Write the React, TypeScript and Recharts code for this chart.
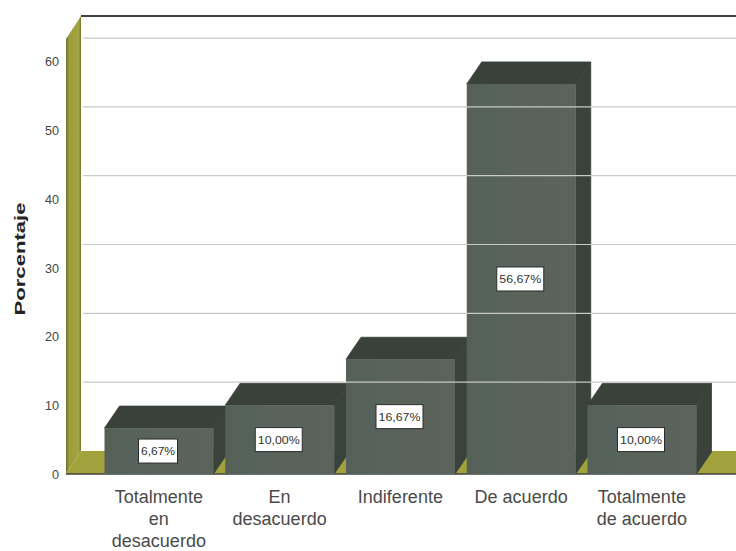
import { Bar, BarChart, LabelList, ReferenceArea, ReferenceLine, XAxis, YAxis } from "recharts";

const categories = ["Totalmente en desacuerdo", "En desacuerdo", "Indiferente", "De acuerdo", "Totalmente de acuerdo"];
const percentages = [6.67, 10, 16.67, 56.67, 10];
const percentLabels = ["6,67%", "10,00%", "16,67%", "56,67%", "10,00%"];
const yTicks = [0, 10, 20, 30, 40, 50, 60];
const tickLines: Record<string, string[]> = {
  "Totalmente en desacuerdo": ["Totalmente", "en", "desacuerdo"],
  "En desacuerdo": ["En", "desacuerdo"],
  Indiferente: ["Indiferente"],
  "De acuerdo": ["De acuerdo"],
  "Totalmente de acuerdo": ["Totalmente", "de acuerdo"],
};

const data = categories.map((name, i) => ({ name, value: percentages[i], label: percentLabels[i] }));

const DX = 15;
const DY = 22;
const PAD_LEFT = 32.5;
const PAD_RIGHT = 33.75;

// the shape only gets the padded band range, so widen it back to the whole plot
function Walls({ x: bandX, y, width: bandWidth, height }: any) {
  const x = bandX - PAD_LEFT;
  const right = bandX + bandWidth + PAD_RIGHT;
  const bottom = y + height;
  return (
    <g>
      <rect x={x + DX} y={y - DY - 1} width={right - x} height={height} fill="#ffffff" />
      <polygon points={`${x},${y} ${x + DX},${y - DY - 1} ${x + DX},${bottom - DY - 1} ${x},${bottom}`} fill="url(#wallFill)" />
      <polygon points={`${x},${bottom} ${x + DX},${bottom - DY - 1} ${right},${bottom - DY - 1} ${right},${bottom}`} fill="#a2a23c" />
      <line x1={x + DX} y1={y - DY - 1} x2={right} y2={y - DY - 1} stroke="#3f4240" strokeWidth={2} />
      <line x1={x} y1={bottom} x2={right} y2={bottom} stroke="#3f4240" strokeWidth={1.5} />
    </g>
  );
}

function GridLine({ y1 }: any) {
  const y = typeof y1 === "number" ? y1 : 0;
  return <line x1={66 + DX + 2} x2={736} y1={y - DY - 1} y2={y - DY - 1} stroke="#c9c9c7" strokeWidth={1.2} />;
}

function Box3D({ x, y, width, height }: any) {
  const right = x + width;
  const bottom = y + height;
  return (
    <g>
      <polygon points={`${x},${y} ${x + DX},${y - DY} ${right + DX},${y - DY} ${right},${y}`} fill="#3a413a" stroke="#3a413a" strokeWidth={0.8} />
      <polygon points={`${right},${y} ${right + DX},${y - DY} ${right + DX},${bottom - DY} ${right},${bottom}`} fill="#39423b" stroke="#39423b" strokeWidth={0.8} />
      <rect x={x} y={y} width={width} height={height} fill="url(#frontFill)" />
    </g>
  );
}

function ValueBox({ x, y, width, height, value }: any) {
  const cx = x + width / 2 - 1;
  const cy = y + height / 2;
  const w = String(value).length > 5 ? 47 : 39;
  return (
    <g>
      <rect x={cx - w / 2} y={cy - 12} width={w} height={24} fill="#ffffff" stroke="#2c2c2c" strokeWidth={1} />
      <text x={cx} y={cy + 4} textAnchor="middle" fontSize={11.5} fill="#333" textLength={w - 5} lengthAdjust="spacingAndGlyphs">
        {value}
      </text>
    </g>
  );
}

function CategoryTick({ x, y, payload }: any) {
  const lines = tickLines[payload.value] ?? [payload.value];
  return (
    <g>
      {lines.map((line, i) => (
        <text key={line} x={x} y={y + 21 + i * 22} textAnchor="middle" fontSize={18} fill="#4a4a4a">
          {line}
        </text>
      ))}
    </g>
  );
}

function PercentTick({ y, payload }: any) {
  return (
    <text x={59} y={y + 5} textAnchor="end" fontSize={13} fill="#444" textLength={payload.value === 0 ? 7 : 14} lengthAdjust="spacingAndGlyphs">
      {payload.value}
    </text>
  );
}

function AxisTitle() {
  return (
    <text
      transform="translate(25,259) rotate(-90)"
      textAnchor="middle"
      fontSize={15}
      fontWeight="bold"
      fill="#222"
      textLength={113}
      lengthAdjust="spacingAndGlyphs"
    >
      Porcentaje
    </text>
  );
}

export default function App() {
  return (
    <div style={{ position: "absolute", left: 0, top: 0, width: 736, height: 551, overflow: "hidden", fontFamily: "'Liberation Sans', Arial, sans-serif" }}>
      <BarChart width={736} height={551} data={data} margin={{ top: 39, right: 0, bottom: 0, left: 0 }}>
        <defs>
          <linearGradient id="wallFill" x1="0" x2="1" y1="0" y2="0">
            <stop offset="0" stopColor="#6d6d28" />
            <stop offset="0.2" stopColor="#9c9c3e" />
            <stop offset="0.85" stopColor="#a3a342" />
            <stop offset="1" stopColor="#77772f" />
          </linearGradient>
          <linearGradient id="frontFill" x1="0" x2="1" y1="0" y2="0">
            <stop offset="0" stopColor="#566058" />
            <stop offset="0.2" stopColor="#55625c" />
            <stop offset="0.5" stopColor="#5a635b" />
            <stop offset="1" stopColor="#5b635c" />
          </linearGradient>
        </defs>
        <XAxis
          dataKey="name"
          height={77}
          interval={0}
          padding={{ left: PAD_LEFT, right: PAD_RIGHT }}
          axisLine={false}
          tickLine={false}
          tick={<CategoryTick />}
        />
        <YAxis
          width={66}
          domain={[0, 63.2]}
          ticks={yTicks}
          axisLine={false}
          tickLine={false}
          tick={<PercentTick />}
          label={<AxisTitle />}
        />
        <ReferenceArea y1={0} y2={63.2} shape={<Walls />} />
        {yTicks.slice(1).map((t) => (
          <ReferenceLine key={t} y={t} shape={<GridLine />} />
        ))}
        <Bar dataKey="value" barSize={109} shape={<Box3D />} isAnimationActive={false}>
          <LabelList dataKey="label" content={<ValueBox />} />
        </Bar>
      </BarChart>
    </div>
  );
}
